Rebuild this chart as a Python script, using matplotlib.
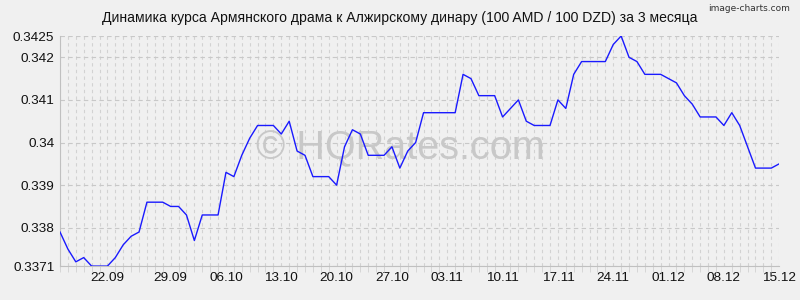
import matplotlib
matplotlib.use("Agg")
import matplotlib.pyplot as plt
import numpy as np

plt.rcParams['font.family'] = ['Liberation Sans', 'DejaVu Sans']

# daily rate, 100 AMD / 100 DZD, 16.09 .. 15.12
rates = [0.3379, 0.3375, 0.3372, 0.3373, 0.3371, 0.3371, 0.3371, 0.3373, 0.3376, 0.3378,
         0.3379, 0.3386, 0.3386, 0.3386, 0.3385, 0.3385, 0.3383, 0.3377, 0.3383, 0.3383,
         0.3383, 0.3393, 0.3392, 0.3397, 0.3401, 0.3404, 0.3404, 0.3404, 0.3402, 0.3405,
         0.3398, 0.3397, 0.3392, 0.3392, 0.3392, 0.3390, 0.3399, 0.3403, 0.3402, 0.3397,
         0.3397, 0.3397, 0.3399, 0.3394, 0.3398, 0.3400, 0.3407, 0.3407, 0.3407, 0.3407,
         0.3407, 0.3416, 0.3415, 0.3411, 0.3411, 0.3411, 0.3406, 0.3408, 0.3410, 0.3405,
         0.3404, 0.3404, 0.3404, 0.3410, 0.3408, 0.3416, 0.3419, 0.3419, 0.3419, 0.3419,
         0.3423, 0.3425, 0.3420, 0.3419, 0.3416, 0.3416, 0.3416, 0.3415, 0.3414, 0.3411,
         0.3409, 0.3406, 0.3406, 0.3406, 0.3404, 0.3407, 0.3404, 0.3399, 0.3394, 0.3394,
         0.3394, 0.3395]

date_labels = ['22.09', '29.09', '06.10', '13.10', '20.10', '27.10', '03.11',
               '10.11', '17.11', '24.11', '01.12', '08.12', '15.12']
label_idx = [6, 14, 21, 28, 35, 42, 49, 56, 63, 70, 77, 84, 91]

y_ticks = [0.3371, 0.338, 0.339, 0.34, 0.341, 0.342, 0.3425]
y_labels = ['0.3371', '0.338', '0.339', '0.34', '0.341', '0.342', '0.3425']

title = 'Динамика курса Армянского драма к Алжирскому динару (100 AMD / 100 DZD) за 3 месяца'

bg = '#f0f0f0'
x = np.arange(len(rates))

fig = plt.figure(figsize=(8, 3), dpi=100, facecolor=bg)
ax = fig.add_axes([0.075, 0.113, 0.899, 0.767], facecolor=bg)

# watermark
ax.text(0.473, 0.513, '© HQRates.com', transform=ax.transAxes, ha='center', va='center',
        fontsize=28.5, color='#c8c8c8', zorder=1)

# grid: every day vertically, major ticks horizontally
for xi in x:
    ax.axvline(xi, color='#d2d2d2', lw=0.8, ls=(0, (3, 3)), zorder=0)
for yt in y_ticks:
    ax.axhline(yt, color='#c8c8c8', lw=0.8, ls=(0, (4, 3)), zorder=0)

ax.plot(x, rates, color='#1a1aff', lw=1.0, zorder=3)

ax.set_xlim(0, len(rates) - 1)
ax.set_ylim(0.3371, 0.3425)
ax.set_xticks(label_idx)
ax.set_xticklabels(date_labels, fontsize=9.7)
ax.set_yticks(y_ticks)
ax.set_yticklabels(y_labels, fontsize=9.7)
ax.tick_params(axis='both', length=0, pad=4, colors='#111111')
ax.set_xticks(x, minor=True)
ax.tick_params(axis='x', which='minor', length=4, color='#d2d2d2', direction='out')

for s in ['top', 'right']:
    ax.spines[s].set_visible(False)
ax.spines['left'].set_color('#c0c0c0')
ax.spines['bottom'].set_color('#c0c0c0')

fig.text(0.5, 0.94, title, ha='center', va='center', fontsize=10.1, color='#111111')
fig.text(0.988, 0.972, 'image-charts.com', ha='right', va='center', fontsize=6.5,
         color='#333333', family=['Liberation Sans Narrow', 'DejaVu Sans'])

fig.savefig('out.png', dpi=100, facecolor=bg)
